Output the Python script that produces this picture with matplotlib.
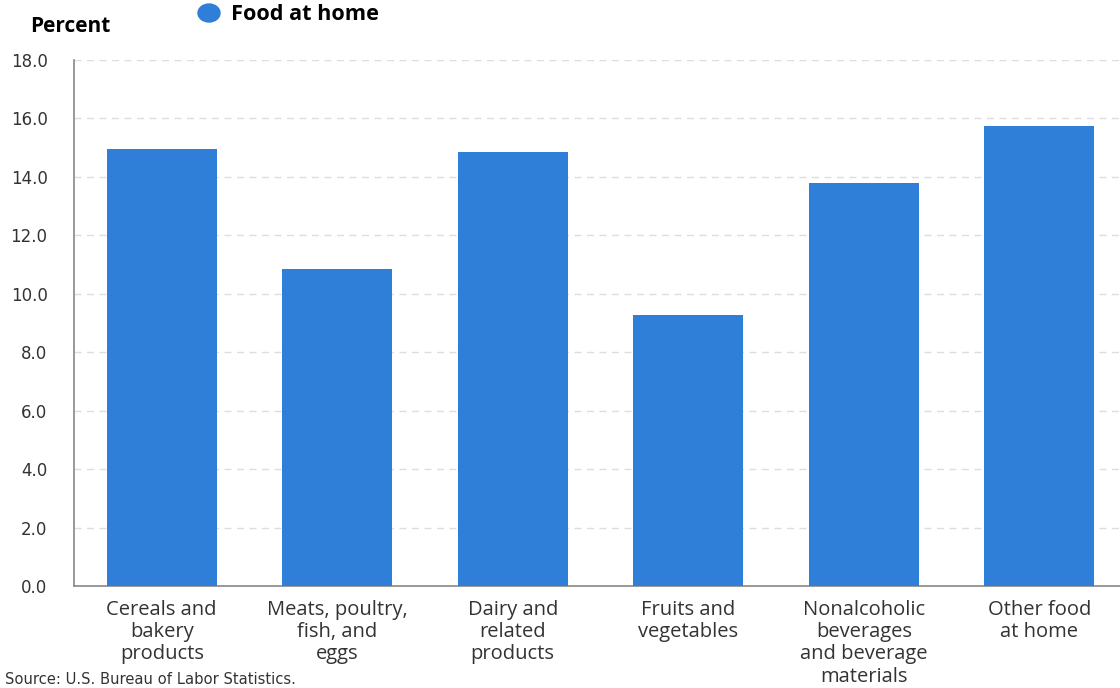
import matplotlib
matplotlib.use("Agg")
import matplotlib.pyplot as plt

categories = ["Cereals and\nbakery\nproducts", "Meats, poultry,\nfish, and\neggs",
              "Dairy and\nrelated\nproducts", "Fruits and\nvegetables",
              "Nonalcoholic\nbeverages\nand beverage\nmaterials", "Other food\nat home"]
values = [14.95, 10.85, 14.85, 9.28, 13.78, 15.75]
yticks = [0, 2, 4, 6, 8, 10, 12, 14, 16, 18]

plt.rcParams['font.family'] = ['Open Sans', 'DejaVu Sans']
color = "#2f7ed8"

fig = plt.figure(figsize=(11.2, 6.88), dpi=100)
ax = fig.add_axes([74 / 1120, 102 / 688, 1053 / 1120, 526 / 688])

x = list(range(len(categories)))
ax.bar(x, values, width=0.627, color=color, zorder=3)
ax.set_xlim(-0.5, len(categories) - 0.5)
ax.set_ylim(0, 18)
ax.set_yticks(yticks)
ax.set_yticklabels([f"{v:.1f}" for v in yticks], fontsize=12, color="#333333", family="DejaVu Sans")
ax.set_xticks(x)
ax.set_xticklabels(categories, fontsize=14.5, color="#333333", linespacing=1.15)
ax.tick_params(axis="x", length=0, pad=10)
ax.tick_params(axis="y", length=0, pad=19)
ax.grid(True, axis="y", linestyle=(0, (5, 4)), color="#dddddd", linewidth=1, zorder=0)
for s in ["top", "right"]:
    ax.spines[s].set_visible(False)
ax.spines["left"].set_color("#888888")
ax.spines["bottom"].set_color("#888888")
ax.spines["left"].set_linewidth(1.2)
ax.spines["bottom"].set_linewidth(1.2)

fig.text(30 / 1120, 1 - 27 / 688, "Percent", fontsize=15, fontweight="bold", va="center", ha="left")
fig.patches.append(matplotlib.patches.Ellipse((209 / 1120, 1 - 13 / 688), 22 / 1120, 18 / 688,
                                              transform=fig.transFigure, color=color))
fig.text(231 / 1120, 1 - 14 / 688, "Food at home", fontsize=15.6, fontweight="bold", va="center", ha="left")
fig.text(5 / 1120, 1 - 679 / 688, "Source: U.S. Bureau of Labor Statistics.", fontsize=10.6,
         color="#333333", va="center", ha="left", family="DejaVu Sans")

fig.savefig("out.png", dpi=100)
